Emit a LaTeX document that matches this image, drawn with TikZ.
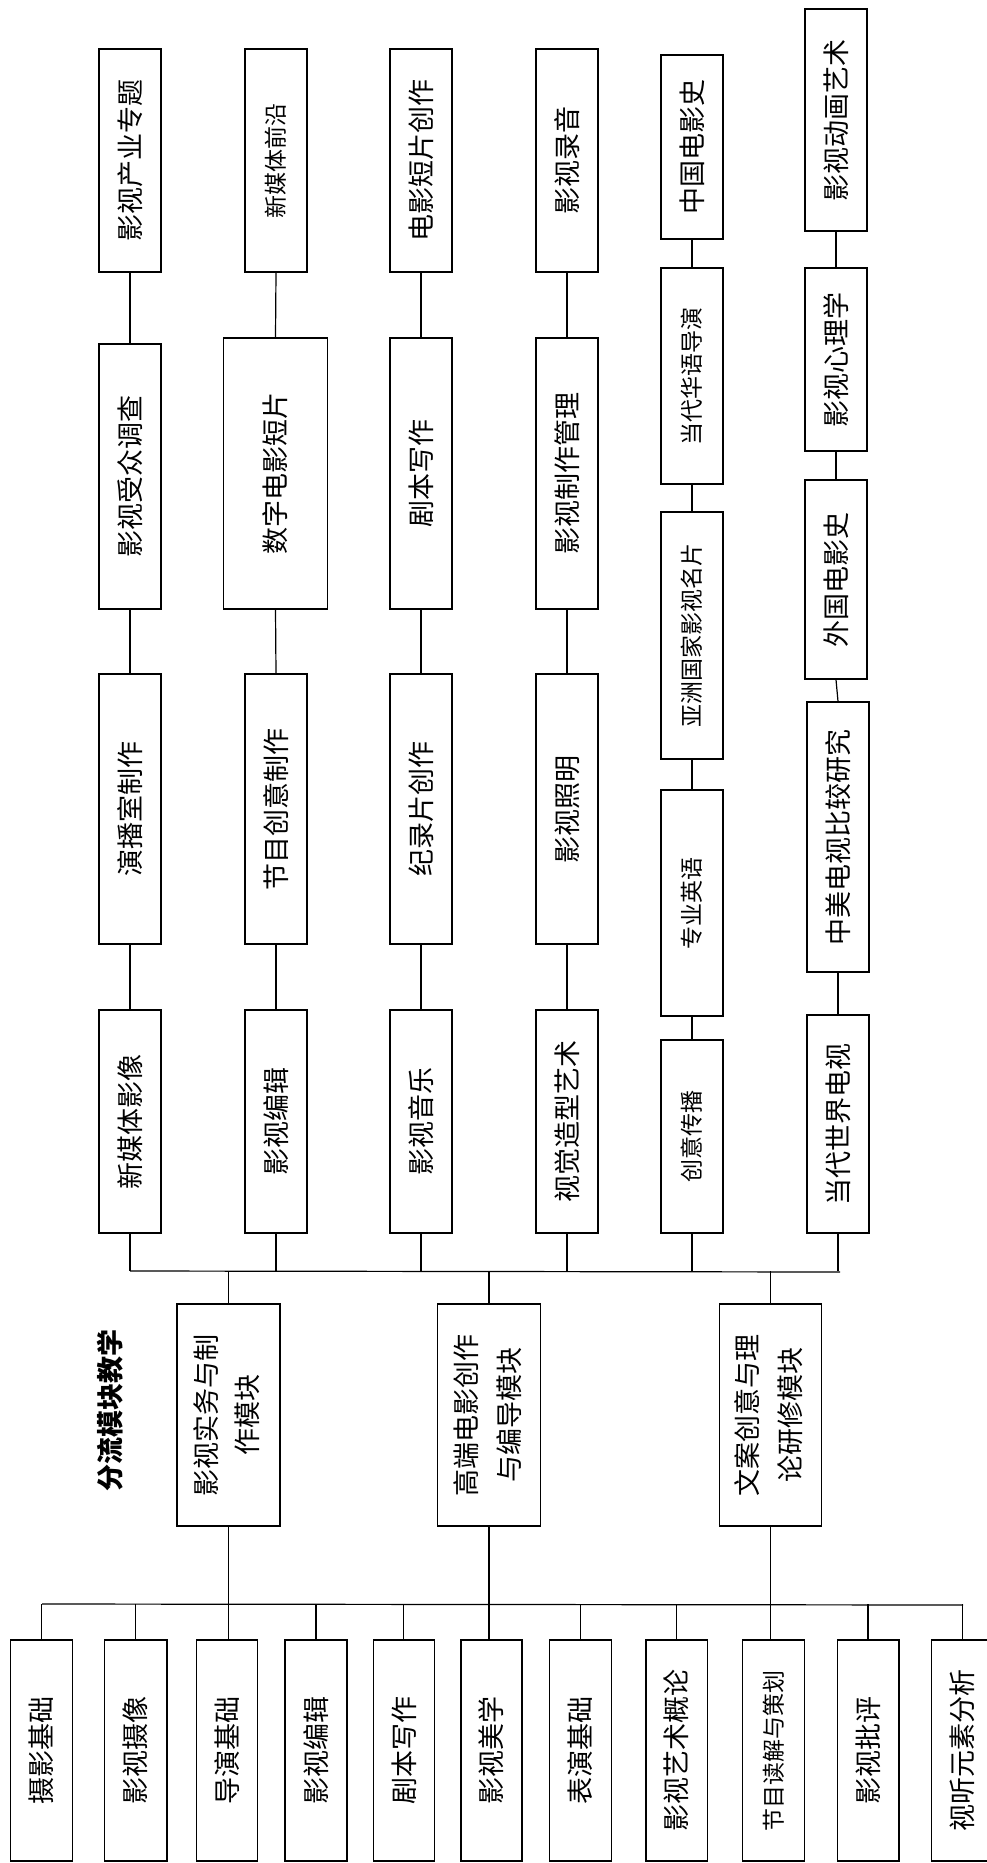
\documentclass[tikz,border=0pt]{standalone}
\usepackage{graphicx}
\usepackage{fontspec}
\setmainfont{Noto Sans CJK SC}
\newcommand\bx[6]{%
  \node[box, minimum width={(#3-#2)*1pt}, minimum height={(#5-#4)*1pt}] (#1) at ({(#2+#3)/2},{(#4+#5)/2}) {\rotatebox{90}{#6}};}
\newcommand\bxs[6]{%
  \node[box, smalltext, minimum width={(#3-#2)*1pt}, minimum height={(#5-#4)*1pt}] (#1) at ({(#2+#3)/2},{(#4+#5)/2}) {\rotatebox{90}{#6}};}
\begin{document}
\begin{tikzpicture}[x=1pt,y=-1pt,
  box/.style={draw, line width=1.4pt, inner sep=0pt, fill=white, font=\fontsize{27}{27}\selectfont},
  smalltext/.style={font=\fontsize{23}{23}\selectfont},
  link/.style={line width=1.2pt}]
\useasboundingbox (0,0) rectangle (987,1863);
\clip (0,0) rectangle (987,1863);
% column 1
\bx{a1}{99}{161}{49}{272}{影视产业专题}
\bx{a2}{99}{161}{344}{609}{影视受众调查}
\bx{a3}{99}{161}{674}{944}{演播室制作}
\bx{a4}{99}{161}{1010}{1233}{新媒体影像}
% column 2
\bxs{b1}{245}{307}{49}{272}{新媒体前沿}
\bx{b2}{223.5}{327.5}{338}{609}{数字电影短片}
\bx{b3}{245}{307}{674}{944}{节目创意制作}
\bx{b4}{245}{307}{1010}{1233}{影视编辑}
% column 3
\bx{c1}{390}{452}{49}{272}{电影短片创作}
\bx{c2}{390}{452}{338}{609}{剧本写作}
\bx{c3}{390}{452}{674}{944}{纪录片创作}
\bx{c4}{390}{452}{1010}{1233}{影视音乐}
% column 4
\bx{d1}{536}{598}{49}{272}{影视录音}
\bx{d2}{536}{598}{338}{609}{影视制作管理}
\bx{d3}{536}{598}{674}{944}{影视照明}
\bx{d4}{536}{598}{1010}{1233}{视觉造型艺术}
% column 5
\bx{e1}{661}{723}{55}{239}{中国电影史}
\bxs{e2}{661}{723}{268}{484}{当代华语导演}
\bxs{e3}{661}{723}{512}{759}{亚洲国家影视名片}
\bxs{e4}{661}{723}{790}{1016}{专业英语}
\bxs{e5}{661}{723}{1040}{1233}{创意传播}
% column 6
\bx{f1}{805}{867}{9}{231}{影视动画艺术}
\bx{f2}{805}{867}{268}{451}{影视心理学}
\bx{f3}{805}{867}{480}{679}{外国电影史}
\bx{f4}{807}{869}{702}{972}{中美电视比较研究}
\bx{f5}{807}{869}{1015}{1233}{当代世界电视}
% column links
\foreach \p in {a,b,c,d}{
  \draw[link] (\p1.south) -- (\p2.north);
  \draw[link] (\p2.south) -- (\p3.north);
  \draw[link] (\p3.south) -- (\p4.north);
}
\draw[link] (e1.south) -- (e2.north);
\draw[link] (e2.south) -- (e3.north);
\draw[link] (e3.south) -- (e4.north);
\draw[link] (e4.south) -- (e5.north);
\draw[link] (f1.south) -- (f2.north);
\draw[link] (f2.south) -- (f3.north);
\draw[link] (f3.south) -- (f4.north);
\draw[link] (f4.south) -- (f5.north);
% top bus
\coordinate (busL) at (130,1271);
\coordinate (busR) at (840,1272);
\draw[link] (busL) -- (busR);
\foreach \n in {a4,b4,c4,d4,e5,f5}{
  \draw[link] (\n.south) -- (\n.south |- busL);
}
% modules
\node[box, minimum width=103pt, minimum height=222pt] (m1) at (228.5,1415)
  {\rotatebox{90}{\fontsize{27}{41}\selectfont\begin{tabular}{@{}c@{}}影视实务与制\\作模块\end{tabular}}};
\node[box, minimum width=103pt, minimum height=222pt] (m2) at (489,1415)
  {\rotatebox{90}{\fontsize{27}{43}\selectfont\begin{tabular}{@{}c@{}}高端电影创作\\与编导模块\end{tabular}}};
\node[box, minimum width=102pt, minimum height=222pt] (m3) at (770.5,1415)
  {\rotatebox{90}{\fontsize{27}{43}\selectfont\begin{tabular}{@{}c@{}}文案创意与理\\论研修模块\end{tabular}}};
\node[font=\bfseries\fontsize{27}{27}\selectfont] (title) at (110,1410) {\rotatebox{90}{分流模块教学}};
\foreach \m in {m1,m2,m3}{
  \draw[link] (\m.north) -- (\m.north |- busL);
}
% bottom boxes
\bx{g1}{10.7}{72.4}{1640}{1861}{摄影基础}
\bx{g2}{104.5}{166.8}{1640}{1861}{影视摄像}
\bx{g3}{196.4}{257.4}{1640}{1861}{导演基础}
\bx{g4}{285}{346.8}{1640}{1861}{影视编辑}
\bx{g5}{373.3}{434.3}{1640}{1861}{剧本写作}
\bx{g6}{460.8}{521.8}{1640}{1861}{影视美学}
\bx{g7}{549.5}{611.2}{1640}{1861}{表演基础}
\bx{g8}{645.8}{707.5}{1640}{1861}{影视艺术概论}
\bxs{g9}{742.7}{804.4}{1640}{1861}{节目读解与策划}
\bx{g10}{837.2}{898.9}{1640}{1861}{影视批评}
\bx{g11}{931.7}{993}{1640}{1861}{视听元素分析}
% bottom bus
\coordinate (bbL) at (42,1604);
\coordinate (bbR) at (963,1605);
\draw[link] (bbL) -- (bbR);
\foreach \n in {g1,g2,g4,g5,g7,g8,g10,g11}{
  \draw[link] (\n.north) -- (\n.north |- bbL);
}
\draw[link] (m1.south) -- (m1.south |- g3.north);
\draw[link] (m2.south) -- (m2.south |- g6.north);
\draw[link] (m3.south) -- (m3.south |- g9.north);
\end{tikzpicture}
\end{document}
